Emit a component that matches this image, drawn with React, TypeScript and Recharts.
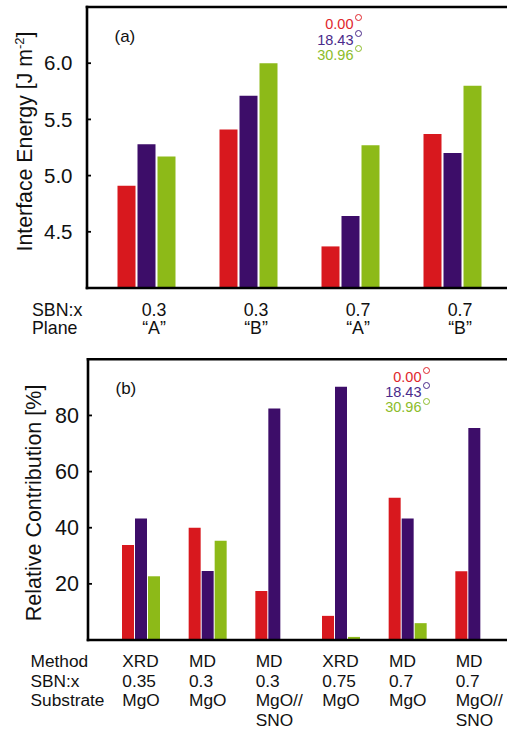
import React from 'react';
import { BarChart, Bar, XAxis, YAxis, Legend } from 'recharts';

const FONT = '"Liberation Sans", Arial, Helvetica, sans-serif';

// panel (a)
const sbnTop = ['0.3', '0.3', '0.7', '0.7'];
const planeTop = ['\u201CA\u201D', '\u201CB\u201D', '\u201CA\u201D', '\u201CB\u201D'];
const energy000 = [4.91, 5.41, 4.37, 5.37];
const energy1843 = [5.28, 5.71, 4.64, 5.2];
const energy3096 = [5.17, 6.0, 5.27, 5.8];
const energyTicks = [4.5, 5.0, 5.5, 6.0];

// panel (b)
const methods = ['XRD', 'MD', 'MD', 'XRD', 'MD', 'MD'];
const sbnBottom = ['0.35', '0.3', '0.3', '0.75', '0.7', '0.7'];
const substrates = ['MgO', 'MgO', 'MgO//SNO', 'MgO', 'MgO', 'MgO//SNO'];
const contrib000 = [33.8, 40.0, 17.5, 8.6, 50.7, 24.5];
const contrib1843 = [43.3, 24.6, 82.5, 90.2, 43.3, 75.5];
const contrib3096 = [22.7, 35.4, 0, 1.1, 6.0, 0];
const contribTicks = [20, 40, 60, 80];

const angles = ['0.00', '18.43', '30.96'];
const barColors = ['#d8181e', '#3d0d69', '#8dba18'];
const textColors = ['#e0262c', '#4a2a8a', '#8cbc2a'];

const topData = sbnTop.map((s, i) => ({
  key: 'a' + i,
  v0: energy000[i],
  v1: energy1843[i],
  v2: energy3096[i],
}));

const bottomData = methods.map((m, i) => ({
  key: 'b' + i,
  v0: contrib000[i],
  v1: contrib1843[i],
  v2: contrib3096[i],
}));

const axisLine = { stroke: '#000', strokeWidth: 2.6, strokeLinecap: 'square' as const };
const tickLine = { stroke: '#000', strokeWidth: 1.8 };

const TopTick = ({ x, y, index }: any) => (
  <g fontFamily={FONT} fontSize={17.8} fill="#111">
    <text x={x + 7.5} y={y + 28} textAnchor="middle">{sbnTop[index]}</text>
    <text x={x + 7.5} y={y + 46.3} textAnchor="middle">{planeTop[index]}</text>
    {index === 0 && (
      <>
        <text x={32} y={y + 28}>SBN:x</text>
        <text x={32} y={y + 46.3}>Plane</text>
      </>
    )}
  </g>
);

const BottomTick = ({ x, y, index }: any) => {
  const sub = substrates[index].includes('//')
    ? [substrates[index].split('//')[0] + '//', substrates[index].split('//')[1]]
    : [substrates[index]];
  const lines = [methods[index], sbnBottom[index], ...sub];
  return (
    <g fontFamily={FONT} fontSize={17.3} fill="#111">
      {lines.map((t, k) => (
        <text key={k} x={x - 19} y={y + 27 + k * 19.5}>{t}</text>
      ))}
      {index === 0 &&
        ['Method', 'SBN:x', 'Substrate'].map((t, k) => (
          <text key={'h' + k} x={30.5} y={y + 27 + k * 19.5}>{t}</text>
        ))}
    </g>
  );
};

// degree ring drawn as a small bordered circle, like the thin superscript "o" in the figure
const AngleLegend = ({ payload, lineHeight, ringTop }: any) => (
  <div style={{ textAlign: 'right', fontFamily: FONT, fontSize: 14.5, lineHeight: lineHeight + 'px' }}>
    {(payload || []).map((p: any, i: number) => (
      <div key={i} style={{ color: textColors[i], whiteSpace: 'nowrap' }}>
        {p.value}
        <span
          style={{
            display: 'inline-block',
            width: 5,
            height: 5,
            border: '1px solid currentColor',
            borderRadius: '50%',
            marginLeft: 1.5,
            verticalAlign: 'top',
            position: 'relative',
            top: ringTop,
          }}
        />
      </div>
    ))}
  </div>
);

const YTitle = ({ viewBox, x, dy, fontSize, children }: any) => {
  const cy = viewBox.y + viewBox.height / 2 + dy;
  return (
    <text
      x={x}
      y={cy}
      transform={`rotate(-90, ${x}, ${cy})`}
      textAnchor="middle"
      fontFamily={FONT}
      fontSize={fontSize}
      fill="#111"
    >
      {children}
    </text>
  );
};

const PanelTag = ({ viewBox, text }: any) => (
  <text x={viewBox.x + 27.5} y={viewBox.y + 36} fontFamily={FONT} fontSize={17} fill="#111">
    {text}
  </text>
);

export default function App() {
  return (
    <div
      style={{
        position: 'absolute',
        left: 0,
        top: 0,
        width: 507,
        height: 730,
        overflow: 'hidden',
        background: '#fff',
      }}
    >
      <BarChart
        width={520}
        height={345}
        data={topData}
        margin={{ top: 6, right: 10, left: 0, bottom: 0 }}
        barGap={2}
        barSize={18}
      >
        <XAxis
          dataKey="key"
          height={57}
          padding={{ left: 8.5, right: 5.5 }}
          axisLine={axisLine}
          tickLine={false}
          tickSize={0}
          tickMargin={0}
          interval={0}
          tick={<TopTick />}
        />
        <XAxis
          xAxisId="top"
          orientation="top"
          dataKey="key"
          height={1}
          axisLine={axisLine}
          tickLine={false}
          tick={false}
          label={{ content: (p: any) => <PanelTag {...p} text="(a)" /> }}
        />
        <YAxis
          width={87}
          domain={[4, 6.5]}
          ticks={energyTicks}
          allowDataOverflow
          axisLine={axisLine}
          tickLine={tickLine}
          tickSize={-4}
          tickMargin={18.5}
          tickFormatter={(v: number) => v.toFixed(1)}
          tick={{ fontFamily: FONT, fontSize: 20.5, fill: '#111' }}
          label={{
            content: (p: any) => (
              <YTitle {...p} x={32} dy={-6} fontSize={21.3}>
                Interface Energy [J m
                <tspan fontSize={13} dy={-8}>-2</tspan>
                <tspan dy={8}>]</tspan>
              </YTitle>
            ),
          }}
        />
        <YAxis
          yAxisId="right"
          orientation="right"
          width={1}
          domain={[4, 6.5]}
          ticks={energyTicks}
          allowDataOverflow
          axisLine={axisLine}
          tickLine={tickLine}
          tickSize={-5}
          tick={false}
        />
        <Legend
          layout="horizontal"
          verticalAlign="middle"
          align="center"
          wrapperStyle={{ left: 240, top: 17.2, width: 122, height: 50 }}
          content={(p: any) => <AngleLegend {...p} lineHeight={15.5} ringTop={-3} />}
        />
        <Bar dataKey="v0" name={angles[0]} fill={barColors[0]} isAnimationActive={false} />
        <Bar dataKey="v1" name={angles[1]} fill={barColors[1]} isAnimationActive={false} />
        <Bar dataKey="v2" name={angles[2]} fill={barColors[2]} isAnimationActive={false} />
      </BarChart>

      <BarChart
        width={520}
        height={385}
        data={bottomData}
        margin={{ top: 13.3, right: 10, left: 0, bottom: 0 }}
        barGap={1}
        barSize={12}
      >
        <XAxis
          dataKey="key"
          height={90}
          padding={{ left: 20, right: 1 }}
          axisLine={axisLine}
          tickLine={false}
          tickSize={0}
          tickMargin={0}
          interval={0}
          tick={<BottomTick />}
        />
        <XAxis
          xAxisId="top"
          orientation="top"
          dataKey="key"
          height={1}
          axisLine={axisLine}
          tickLine={false}
          tick={false}
          label={{ content: (p: any) => <PanelTag {...p} text="(b)" /> }}
        />
        <YAxis
          width={88}
          domain={[0, 100]}
          ticks={contribTicks}
          allowDataOverflow
          axisLine={axisLine}
          tickLine={tickLine}
          tickSize={-4}
          tickMargin={13}
          tick={{ fontFamily: FONT, fontSize: 21.5, fill: '#111' }}
          label={{
            content: (p: any) => (
              <YTitle {...p} x={41.5} dy={3.3} fontSize={21.5}>
                Relative Contribution [%]
              </YTitle>
            ),
          }}
        />
        <YAxis
          yAxisId="right"
          orientation="right"
          width={1}
          domain={[0, 100]}
          ticks={contribTicks}
          allowDataOverflow
          axisLine={axisLine}
          tickLine={tickLine}
          tickSize={-5}
          tick={false}
        />
        <Legend
          layout="horizontal"
          verticalAlign="middle"
          align="center"
          wrapperStyle={{ left: 300, top: 24.7, width: 130, height: 50 }}
          content={(p: any) => <AngleLegend {...p} lineHeight={15.25} ringTop={-2.5} />}
        />
        <Bar dataKey="v0" name={angles[0]} fill={barColors[0]} isAnimationActive={false} />
        <Bar dataKey="v1" name={angles[1]} fill={barColors[1]} isAnimationActive={false} />
        <Bar dataKey="v2" name={angles[2]} fill={barColors[2]} isAnimationActive={false} />
      </BarChart>
    </div>
  );
}
